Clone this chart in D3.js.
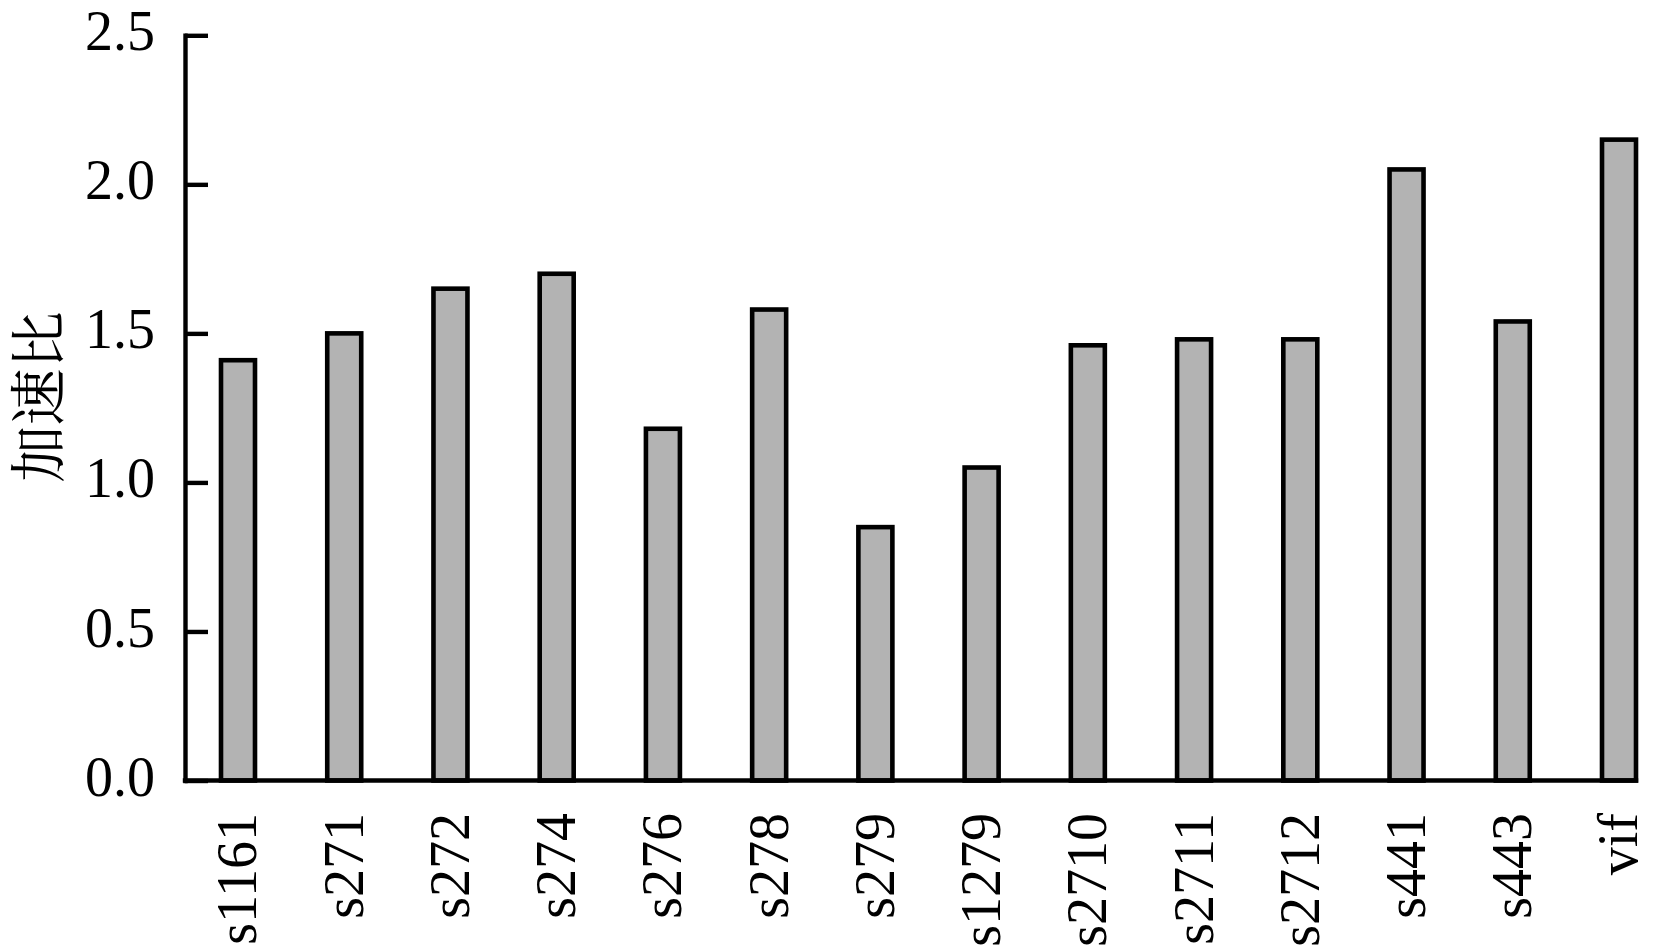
<!DOCTYPE html>
<html>
<head>
<meta charset="utf-8">
<script src="https://cdn.jsdelivr.net/npm/d3@7"></script>
<style>
  html, body { margin: 0; padding: 0; background: #fff; }
  svg { display: block; }
</style>
</head>
<body>
<svg id="chart" width="1658" height="951"></svg>
<script>
const categories = ["s1161","s271","s272","s274","s276","s278","s279","s1279","s2710","s2711","s2712","s441","s443","vif"];
const speedup = [1.41,1.50,1.65,1.70,1.18,1.58,0.85,1.05,1.46,1.48,1.48,2.05,1.54,2.15];
const yTicks = [0,0.5,1.0,1.5,2.0,2.5];
const yTitle = "加速比";

const svg = d3.select("#chart");
const axisX = 185, yTop = 35.3, yBottom = 780.5;
const y = d3.scaleLinear().domain([0, 2.5]).range([yBottom, yTop]);
const x = d3.scaleBand().domain(categories).range([221, 1636]).paddingInner(0.68).paddingOuter(0);

const serif = "'Liberation Serif', 'Times New Roman', serif";

// bars
svg.append("g").selectAll("rect").data(categories).join("rect")
  .attr("x", d => x(d))
  .attr("width", x.bandwidth())
  .attr("y", (d, i) => y(speedup[i]))
  .attr("height", (d, i) => y(0) - y(speedup[i]))
  .attr("fill", "#b3b3b3")
  .attr("stroke", "#000")
  .attr("stroke-width", 4.6);

// y axis
const yAxis = svg.append("g").attr("transform", `translate(${axisX},0)`)
  .call(d3.axisLeft(y).tickValues(yTicks).tickFormat(d3.format(".1f"))
    .tickSizeInner(-23).tickSizeOuter(0).tickPadding(30));
yAxis.select(".domain").attr("stroke", "#000").attr("stroke-width", 4.4).attr("stroke-linecap", "square");
yAxis.selectAll(".tick line").attr("stroke", "#000").attr("stroke-width", 4.4);
yAxis.selectAll(".tick text")
  .attr("font-family", serif).attr("font-size", 56).attr("fill", "#000")
  .attr("dy", "0.26em");

// x baseline
svg.append("line")
  .attr("x1", axisX).attr("x2", 1636)
  .attr("y1", y(0)).attr("y2", y(0))
  .attr("stroke", "#000").attr("stroke-width", 4.4).attr("stroke-linecap", "square");

// x labels
svg.append("g").selectAll("text").data(categories).join("text")
  .attr("transform", d => `translate(${x(d) + x.bandwidth() / 2},813) rotate(-90)`)
  .attr("text-anchor", "end")
  .attr("dy", "0.33em")
  .attr("font-family", serif).attr("font-size", 56).attr("fill", "#000")
  .text(d => d);

// y title
svg.append("text")
  .attr("transform", "translate(34,397) rotate(-90)")
  .attr("text-anchor", "middle")
  .attr("dominant-baseline", "central")
  .attr("font-family", "'Noto Serif CJK SC', 'Noto Sans CJK SC', serif")
  .attr("font-size", 57).attr("fill", "#000")
  .text(yTitle);
</script>
</body>
</html>
